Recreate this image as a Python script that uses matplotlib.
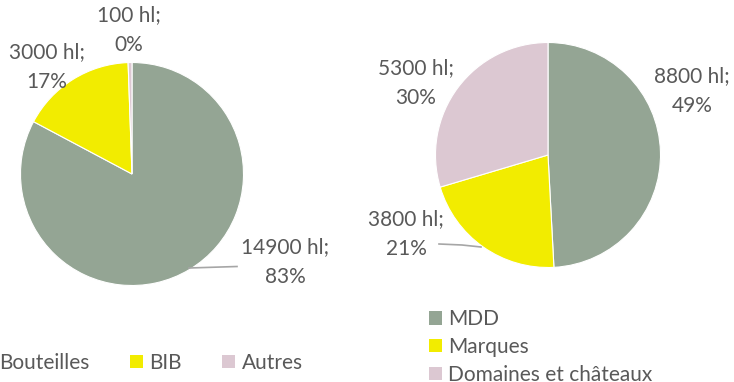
import matplotlib
matplotlib.use("Agg")
import matplotlib.pyplot as plt

plt.rcParams['font.family'] = ['Lato', 'DejaVu Sans']
TEXT = '#595959'
LINE = '#A6A6A6'

# volumes par conditionnement
pack_labels = ['Bouteilles', 'BIB', 'Autres']
pack_hl = [14900, 3000, 100]
pack_pct = [83, 17, 0]
pack_colors = ['#94A594', '#F2EC00', '#DCC8D2']

# volumes par type de marque
brand_labels = ['MDD', 'Marques', 'Domaines et châteaux']
brand_hl = [8800, 3800, 5300]
brand_pct = [49, 21, 30]
brand_colors = ['#94A594', '#F2EC00', '#DCC8D2']

fig = plt.figure(figsize=(7.34, 3.82), dpi=100)
ax = fig.add_axes([0, 0, 1, 1])

# y axis is inverted below, so counterclock=True turns clockwise on screen
w1, _ = ax.pie(pack_hl, colors=pack_colors, center=(132, 174), radius=111.5,
               startangle=270, counterclock=True, frame=True,
               wedgeprops=dict(edgecolor='white', linewidth=0.8))
w2, _ = ax.pie(brand_hl, colors=brand_colors, center=(548, 155), radius=112.5,
               startangle=270, counterclock=True, frame=True,
               wedgeprops=dict(edgecolor='white', linewidth=0.8))
ax.set_xlim(0, 734)
ax.set_ylim(382, 0)   # pixel-like coords, y pointing down
ax.set_aspect('equal')
ax.axis('off')

fs = 15
pack_pos = [(285, 262), (47, 67), (129, 30)]
brand_pos = [(692, 91), (406, 234), (416, 83)]
for (x, y), v, p in zip(pack_pos, pack_hl, pack_pct):
    ax.text(x, y, f"{v} hl;\n{p}%", ha='center', va='center', fontsize=fs,
            color=TEXT, linespacing=1.6)
for (x, y), v, p in zip(brand_pos, brand_hl, brand_pct):
    ax.text(x, y, f"{v} hl;\n{p}%", ha='center', va='center', fontsize=fs,
            color=TEXT, linespacing=1.6)

# leader lines
ax.plot([189, 237], [268, 266.5], color=LINE, lw=1.2)
ax.plot([439, 462, 481], [244, 245, 247], color=LINE, lw=1.2)

leg1 = ax.legend(w1, pack_labels, ncol=3, loc='center left',
                 bbox_to_anchor=(-20, 363), bbox_transform=ax.transData,
                 frameon=False, fontsize=fs, handlelength=0.62, handleheight=0.62,
                 handletextpad=0.3, columnspacing=1.95, borderpad=0, borderaxespad=0,
                 labelcolor=TEXT)
ax.add_artist(leg1)
for h in leg1.legend_handles:
    h.set_edgecolor('none')
leg2 = ax.legend(w2, brand_labels, ncol=1, loc='center left',
                 bbox_to_anchor=(429, 347), bbox_transform=ax.transData,
                 frameon=False, fontsize=fs, handlelength=0.62, handleheight=0.62,
                 handletextpad=0.3, labelspacing=0.38, borderpad=0, borderaxespad=0,
                 labelcolor=TEXT)
for h in leg2.legend_handles:
    h.set_edgecolor('none')

fig.savefig('out.png', dpi=100)
